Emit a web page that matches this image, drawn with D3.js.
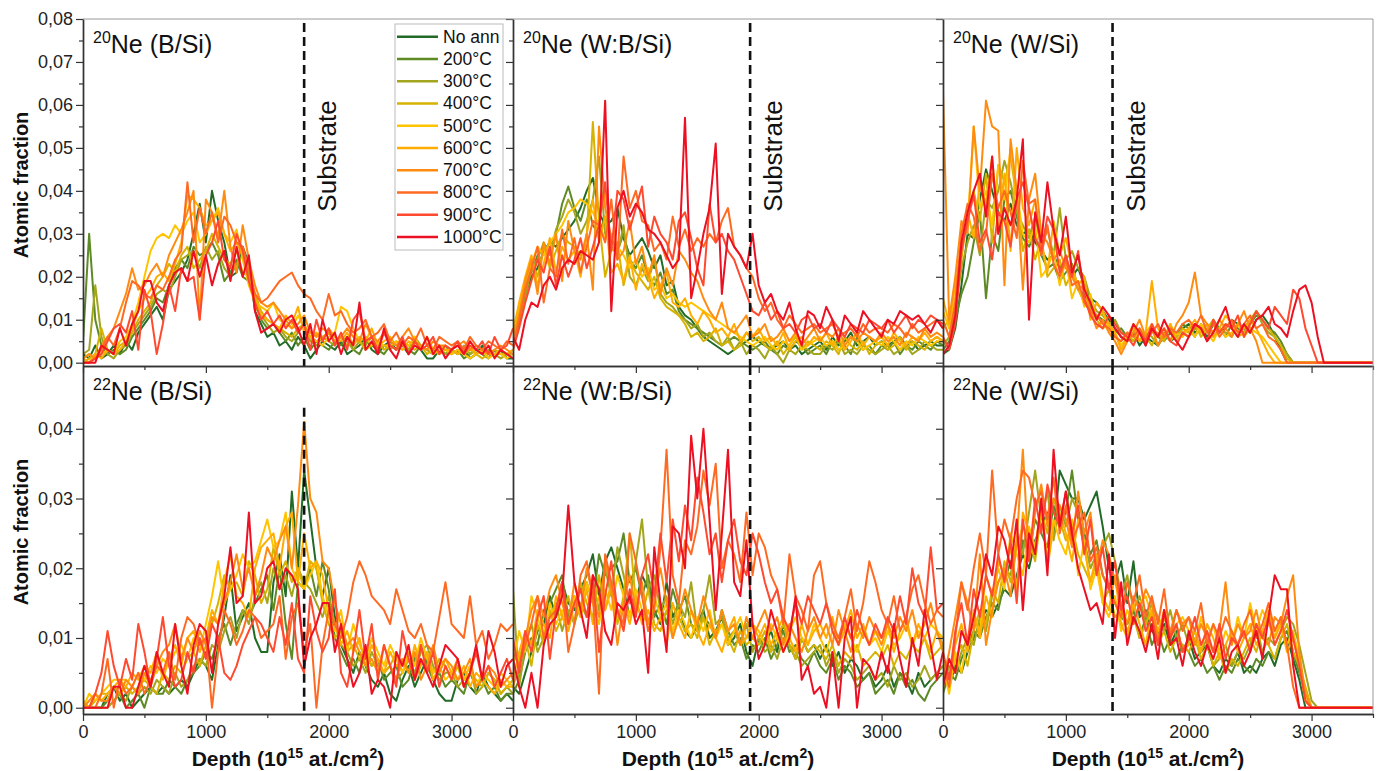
<!DOCTYPE html>
<html>
<head>
<meta charset="utf-8">
<script src="https://cdn.jsdelivr.net/npm/d3@7"></script>
<style>
  body { margin: 0; background: #fff; }
  svg { font-family: Arial, 'Liberation Sans', sans-serif; }
</style>
</head>
<body>
<script>
// Ne depth profiles after annealing, 3 samples x 2 isotopes.

const temps = ['No ann', '200°C', '300°C', '400°C', '500°C', '600°C', '700°C', '800°C', '900°C', '1000°C'];
const colors = ['#226b27', '#5e8a26', '#a3a51c', '#d6b300', '#ffc400', '#ffad00', '#ff8c10', '#ff6a22', '#ff4a30', '#ec1022'];

// depth, 10^15 at./cm2
const depth = [0,50,100,150,200,250,300,350,400,450,
  500,550,600,650,700,750,800,850,900,950,
  1000,1050,1100,1150,1200,1250,1300,1350,1400,1450,
  1500,1550,1600,1650,1700,1750,1800,1850,1900,1950,
  2000,2050,2100,2150,2200,2250,2300,2350,2400,2450,
  2500,2550,2600,2650,2700,2750,2800,2850,2900,2950,
  3000,3050,3100,3150,3200,3250,3300,3350,3400,3450,
  3500];

// atomic fraction x 1000, one row per temperature (same order as temps)
const ne20_BSi = [
  [2,1,4,1,2,4,2,5,3,7, 9,11,13,10,17,19,21,24,30,37, 28,40,33,28,20,21,27,23,12,9, 6,7,4,5,3,6,4,1,3,5, 4,3,5,2,3,4,6,3,2,4, 5,3,4,2,5,3,1,1,3,2, 3,2,3,1,2,4,2,2,3,1, 1],
  [5,30,10,4,2,3,2,3,6,8, 10,12,15,14,18,22,24,22,27,25, 26,28,25,19,21,24,20,19,14,10, 8,9,7,5,7,4,6,3,5,4, 3,5,4,6,3,2,5,4,3,2, 4,3,5,3,2,4,3,2,3,4, 2,3,1,2,3,2,1,3,2,2, 2],
  [2,3,18,6,2,1,3,4,7,9, 11,13,16,17,16,20,24,25,26,22, 27,24,26,22,20,23,25,21,13,11, 9,7,8,6,5,7,9,5,4,6, 5,4,6,5,3,5,4,6,3,4, 3,5,4,3,6,4,3,2,3,2, 3,2,4,2,3,2,3,2,1,2, 2],
  [0,1,2,8,3,2,4,5,7,10, 12,14,18,20,23,21,25,27,22,24, 26,30,27,24,23,26,21,20,16,12, 10,9,8,7,6,8,9,6,5,6, 7,5,6,4,5,5,3,4,5,3, 4,3,5,4,3,4,2,3,2,3, 2,3,2,3,2,1,2,3,2,2, 3],
  [1,2,1,2,3,2,5,6,9,14, 20,26,29,30,29,32,30,33,35,28, 30,33,36,30,28,31,24,18,14,13, 12,14,10,9,8,11,8,6,5,4, 6,7,13,12,8,5,6,4,5,4, 4,5,3,4,6,3,4,2,3,3, 2,3,2,1,2,3,1,2,2,1, 2],
  [1,0,2,1,3,2,3,5,8,12, 15,17,20,21,19,23,28,39,38,36, 32,33,35,30,26,28,25,19,15,11, 10,9,8,11,9,13,7,6,7,5, 8,6,5,7,4,6,5,8,4,5, 6,4,3,5,4,3,6,3,4,3, 3,2,3,4,2,3,2,2,3,2, 3],
  [1,2,1,4,6,8,12,16,22,17, 18,21,23,20,25,28,31,35,40,10, 38,35,29,40,27,21,32,24,18,14, 13,14,12,10,8,9,11,7,6,8, 7,5,6,8,6,5,9,6,5,7, 5,4,6,8,5,4,3,5,4,4, 3,4,5,3,4,3,2,3,4,3, 2],
  [0,0,1,3,6,4,8,14,19,18, 16,15,18,17,20,24,26,42,28,36, 30,35,28,34,32,28,27,22,16,14, 15,17,19,20,21,18,16,15,12,10, 16,11,12,9,7,8,10,6,7,9, 5,7,4,6,5,8,4,3,6,5, 4,5,3,6,4,3,5,4,3,5, 4],
  [0,0,1,2,5,8,9,7,12,3, 17,12,2,9,18,12,22,19,20,10, 25,28,33,24,22,30,26,19,14,10, 12,9,11,8,10,7,9,3,10,5, 8,4,7,3,10,12,5,6,3,7, 4,3,6,2,5,3,4,6,2,4, 3,5,2,4,3,5,2,6,3,4, 8],
  [0,0,0,4,3,2,8,4,9,12, 19,19,14,12,18,21,22,19,26,20, 25,18,23,26,19,27,20,25,12,7, 8,9,7,10,11,8,4,9,2,10, 5,7,2,6,4,14,3,5,2,8, 3,1,5,2,4,3,6,2,4,1, 3,4,2,5,3,2,4,1,3,2, 1]
];

const ne20_WBSi = [
  [5,9,16,20,22,26,28,27,29,31, 33,36,40,43,35,32,33,36,29,25, 27,29,26,22,25,18,19,13,11,10, 8,6,5,4,3,2,3,4,5,6, 5,4,3,4,5,3,4,2,3,4, 5,3,6,4,5,7,4,5,6,4, 5,4,5,6,4,5,3,4,5,4, 4],
  [4,12,18,21,25,27,26,30,37,41, 36,33,38,32,30,34,29,26,30,24, 22,25,20,18,21,16,17,12,10,9, 8,7,6,5,4,5,6,5,4,3, 4,5,3,2,4,3,5,4,2,3, 4,2,5,3,4,2,6,3,4,2, 4,3,5,2,4,3,5,4,3,5, 4],
  [3,10,15,22,24,28,25,31,34,38, 35,30,33,38,48,30,27,25,32,20, 18,22,19,24,16,14,13,11,10,8, 9,6,7,5,4,6,3,5,2,4, 3,1,4,2,0,3,2,4,3,2, 2,4,3,5,2,3,2,4,3,2, 3,4,2,3,4,2,3,5,4,3, 3],
  [6,12,17,24,20,27,22,26,30,28, 27,25,29,56,33,20,26,28,18,24, 21,19,17,20,15,13,12,11,9,6, 7,5,6,8,4,5,3,4,7,5, 6,4,3,5,2,4,6,3,5,4, 3,5,4,2,6,4,3,5,2,4, 5,3,4,6,3,5,4,3,5,6, 5],
  [8,13,19,23,27,25,28,30,32,35, 36,38,37,35,32,29,30,27,25,22, 24,20,22,17,18,15,16,14,13,14, 13,12,11,10,9,8,7,6,5,4, 5,6,4,3,5,4,7,3,4,5, 6,4,5,3,4,6,5,3,4,5, 4,6,5,3,5,4,6,5,4,5, 5],
  [7,14,20,25,18,23,29,21,27,24, 26,20,30,38,28,34,21,23,19,25, 17,23,20,15,18,21,14,13,15,11, 9,12,10,7,8,6,9,5,7,6, 8,5,6,4,7,3,5,6,4,6, 5,7,4,6,3,5,7,4,6,5, 6,4,7,5,4,6,5,7,5,6, 5],
  [5,11,19,24,16,28,23,30,19,33, 26,24,30,17,55,36,29,24,26,33, 23,27,20,25,16,22,18,26,24,21, 19,15,12,10,14,8,7,9,11,6, 7,9,5,6,8,5,7,4,6,8, 5,7,6,8,4,6,5,7,6,5, 7,5,6,4,7,6,5,8,6,7, 6],
  [4,10,17,22,27,14,22,20,31,23, 29,21,27,33,32,28,38,24,48,36, 40,33,32,26,28,24,34,27,31,26, 29,27,30,28,33,36,27,25,22,20, 15,12,14,10,8,11,9,7,8,9, 7,8,9,6,7,8,6,9,7,8, 8,7,9,8,6,9,7,8,9,10, 8],
  [3,8,14,19,24,21,27,18,25,20, 24,29,22,27,32,42,26,40,38,31, 36,41,27,34,30,28,24,33,35,29, 22,18,37,28,30,26,24,20,16,12, 11,14,10,12,8,9,7,10,11,8, 9,7,10,8,6,9,8,7,10,9, 8,10,7,9,11,8,10,9,11,10, 9],
  [6,3,10,14,13,18,20,17,22,24, 23,26,25,24,28,61,12,36,40,34, 37,35,31,30,28,25,22,24,57,15, 22,30,36,51,16,30,27,25,22,30, 18,14,16,12,10,14,8,4,12,11, 8,13,10,5,11,9,7,12,10,8, 6,10,9,12,11,10,11,9,7,10, 8]
];

const ne20_WSi = [
  [2,3,8,18,30,29,38,45,40,35, 33,37,32,30,31,28,26,24,25,22, 24,20,22,18,15,14,12,10,8,6, 5,7,4,6,5,4,7,5,6,8, 9,7,8,6,9,7,8,10,9,8, 7,10,11,9,6,3,0,0,0,0, 0,0,0,0,0,0,0,0,0,0, 0],
  [3,5,10,16,20,28,35,15,30,26, 38,40,34,29,27,30,25,22,23,19, 21,23,17,16,13,11,10,9,7,8, 6,5,7,4,8,6,5,7,6,9, 8,6,9,7,10,8,6,9,8,7, 9,11,10,8,7,5,2,0,0,0, 0,0,0,0,0,0,0,0,0,0, 0],
  [4,6,12,22,28,32,25,38,36,40, 47,42,35,32,29,34,27,31,25,36, 24,26,22,20,15,12,11,9,10,7, 6,8,5,7,6,4,6,8,5,7, 6,8,7,9,6,8,7,6,9,8, 10,12,9,7,6,4,2,0,0,0, 0,0,0,0,0,0,0,0,0,0, 0],
  [8,10,14,24,35,40,33,44,28,46, 42,48,38,26,31,24,29,20,22,24, 18,21,17,14,12,10,8,9,6,5, 7,5,8,6,4,7,5,9,6,8, 7,9,6,8,10,7,9,8,6,7, 9,12,10,8,6,4,1,0,0,0, 0,0,0,0,0,0,0,0,0,0, 0],
  [12,8,15,28,32,55,36,40,32,46, 38,50,40,30,28,32,20,22,26,18, 24,15,19,13,16,10,12,8,7,4, 6,8,5,7,9,6,8,5,7,6, 8,6,9,7,5,8,6,7,9,6, 8,7,6,4,2,0,0,0,0,0, 0,0,0,0,0,0,0,0,0,0, 0],
  [15,9,18,26,35,29,42,37,48,30, 44,26,50,36,32,38,28,21,33,25, 29,22,18,20,10,14,12,9,7,3, 6,9,5,7,19,8,6,9,5,7, 8,10,7,9,6,8,11,9,7,8, 10,8,5,2,0,0,0,0,0,0, 0,0,0,0,0,0,0,0,0,0, 0],
  [63,10,20,33,30,55,40,61,55,54, 18,52,40,17,38,44,30,28,24,26, 22,20,17,18,12,8,10,7,5,2, 5,7,10,6,8,4,7,5,9,11, 14,21,11,9,7,10,8,6,9,12, 8,5,0,0,0,0,0,0,0,0, 0,0,0,0,0,0,0,0,0,0, 0],
  [10,6,14,30,37,34,26,30,44,36, 40,35,29,47,37,38,25,32,23,20, 24,18,19,14,12,11,9,8,6,5, 7,6,8,5,7,9,6,8,7,9, 10,8,11,7,9,6,8,10,7,9, 11,8,9,6,5,3,0,0,0,0, 0,0,0,0,0,0,0,0,0,0, 0],
  [6,3,9,26,33,39,28,31,24,35, 33,27,38,42,36,29,26,34,31,21, 25,20,26,15,11,9,8,11,9,7, 6,4,7,5,9,6,8,5,4,7, 6,9,8,5,10,7,9,8,11,6, 9,12,10,8,13,11,9,17,15,8, 4,0,0,0,0,0,0,0,0,0, 0],
  [2,4,11,28,35,40,44,34,48,30, 36,32,38,52,10,35,28,42,31,25, 34,21,25,17,14,10,13,11,8,6, 5,9,7,4,8,6,10,7,5,3, 6,9,8,5,7,10,13,8,6,9, 7,10,11,13,9,8,6,12,17,18, 14,6,0,0,0,0,0,0,0,0, 0]
];

const ne22_BSi = [
  [0,0,0,0,2,3,1,2,0,1, 2,3,2,3,2,3,4,3,5,7, 6,4,9,13,19,11,13,15,10,8, 8,18,22,16,31,20,34,27,20,16, 20,13,9,7,5,8,6,4,3,5, 2,1,4,6,3,5,7,4,2,1, 1,4,5,3,2,5,3,2,1,2, 1],
  [0,0,0,0,1,3,2,0,1,2, 0,3,2,2,4,3,2,4,5,6, 8,7,10,12,9,12,14,13,15,17, 19,14,20,12,7,18,17,20,16,21, 17,10,8,6,7,5,8,6,7,4, 5,6,3,4,7,9,6,4,5,3, 4,3,2,5,3,4,2,3,1,2, 2],
  [0,0,0,0,0,1,2,1,3,2, 3,2,4,3,2,5,3,4,6,7, 6,9,8,11,13,10,14,12,16,18, 15,20,17,19,16,20,18,17,15,13, 16,12,9,8,6,7,5,8,6,5, 6,4,5,7,5,8,9,6,4,5, 5,3,4,6,2,3,5,4,2,3, 2],
  [1,0,1,2,2,3,2,3,2,3, 4,3,2,5,4,6,5,7,8,6, 9,12,15,19,17,18,16,21,19,15, 17,23,19,21,18,20,17,21,20,15, 12,10,11,8,9,7,8,6,7,5, 6,8,5,7,4,6,8,5,7,6, 4,6,3,5,4,3,5,4,2,3, 4],
  [0,2,1,2,3,4,4,4,3,5, 4,6,5,7,6,8,9,7,10,8, 12,16,21,15,17,19,22,20,21,24, 27,23,24,28,20,18,17,19,21,16, 13,11,14,8,12,9,7,10,8,6, 9,7,5,8,6,10,7,5,6,4, 5,7,4,6,3,5,4,3,5,4, 3],
  [1,0,2,1,2,3,4,3,5,4, 6,5,8,4,7,9,6,10,11,8, 10,14,12,18,22,16,15,13,20,23, 24,25,20,26,28,18,25,20,21,19, 14,12,9,11,8,10,6,9,7,5, 8,6,7,5,9,6,8,4,6,7, 5,4,6,3,5,4,3,2,4,3, 3],
  [0,1,2,1,1,3,2,4,3,2, 5,3,6,8,9,12,7,10,8,11, 9,13,12,15,18,22,17,20,16,19, 23,21,24,26,20,29,41,30,28,21, 20,15,12,9,10,8,6,7,5,9, 6,4,7,5,8,4,6,9,5,7, 6,4,5,7,3,4,6,5,3,4, 5],
  [0,0,0,2,7,0,4,2,3,5, 2,4,6,5,8,4,10,13,12,9, 10,0,8,14,12,9,11,14,13,10, 11,12,16,7,13,15,8,12,0,9, 14,12,10,13,18,21,19,16,15,14, 12,17,14,11,10,12,9,8,13,18, 12,11,10,16,9,11,7,9,12,11, 12],
  [0,0,2,5,11,6,3,7,4,12, 8,3,7,13,6,3,4,8,5,10, 7,12,10,5,4,6,9,11,13,12, 10,8,13,9,15,7,5,16,11,8, 10,17,5,3,8,14,7,12,4,9, 6,3,11,7,4,9,5,8,3,6, 4,7,3,5,8,4,6,3,5,7, 4],
  [0,0,0,0,0,3,3,0,0,3, 6,3,8,5,3,12,6,2,9,12, 11,5,12,16,23,15,16,28,15,16, 20,21,17,20,19,17,6,10,12,15, 15,8,12,7,3,5,9,2,4,3, 0,8,6,9,4,7,5,3,6,9, 8,7,3,5,9,4,11,8,3,6, 7]
];

const ne22_WBSi = [
  [3,2,5,8,11,12,16,13,18,15, 14,17,19,22,16,21,23,20,17,13, 15,19,17,14,12,18,13,15,11,10, 12,14,10,11,13,9,10,12,8,6, 10,9,11,8,12,9,7,10,8,9, 7,9,6,8,5,7,6,4,5,3, 4,6,3,5,4,2,5,3,4,5, 6],
  [2,4,8,10,9,14,15,17,19,13, 16,14,18,15,22,19,20,21,25,18, 20,16,19,13,15,12,17,14,16,12, 11,13,12,10,14,11,9,10,7,9, 8,10,7,9,11,8,9,7,6,8, 6,5,7,4,6,5,3,4,5,2, 3,4,2,5,3,4,2,1,3,4, 5],
  [17,3,9,12,8,10,13,15,11,14, 12,15,13,18,14,20,16,23,19,15, 21,27,17,19,14,16,12,15,13,18, 11,14,19,12,13,10,11,9,12,8, 10,8,9,7,10,9,8,6,7,8, 9,6,8,5,7,6,4,5,6,4, 5,3,6,4,5,3,4,6,4,5, 6],
  [5,7,10,6,12,9,14,11,13,16, 12,18,15,13,19,14,17,12,16,25, 15,13,17,12,11,14,10,13,11,12, 10,13,9,11,12,10,8,11,9,10, 9,11,8,10,12,9,7,10,8,9, 8,7,9,6,8,7,9,6,7,8, 7,9,6,8,7,9,8,10,7,8, 9],
  [6,11,8,16,13,10,15,12,14,11, 16,13,18,15,12,17,14,19,16,13, 17,14,12,16,13,15,11,14,12,10, 13,11,14,10,12,9,11,13,10,12, 11,9,12,10,8,11,13,10,9,12, 10,8,11,9,12,10,8,11,9,10, 8,11,9,10,12,9,11,10,12,11, 10],
  [4,8,11,9,14,12,10,16,13,11, 15,13,17,12,16,14,18,13,15,12, 16,12,14,11,13,9,15,12,10,14, 11,9,12,10,8,11,13,9,10,12, 10,12,9,11,13,10,8,12,9,11, 12,10,13,9,11,14,10,12,9,11, 10,12,8,11,13,9,12,10,8,11, 9],
  [3,6,10,14,16,13,17,19,15,12, 18,14,20,16,13,21,17,9,15,19, 14,18,12,16,20,15,10,13,17,14, 12,16,13,10,14,11,12,9,13,10, 12,14,11,13,9,12,10,8,11,13, 10,12,9,14,11,8,12,10,13,11, 9,12,10,13,11,14,10,12,15,11, 8],
  [8,6,9,12,16,10,13,14,18,8, 12,19,21,16,2,22,18,14,12,25, 21,16,11,14,23,37,19,15,24,22, 26,34,29,35,20,24,22,18,28,19, 25,23,19,17,12,22,16,14,11,19, 21,15,12,10,13,17,11,15,21,18, 14,12,16,11,13,17,19,15,12,14, 13],
  [10,5,11,8,13,16,7,14,18,12, 15,17,13,19,8,16,21,14,11,17, 13,19,22,16,25,18,27,21,29,24, 33,28,22,25,18,24,27,21,19,25, 22,18,15,17,13,11,15,12,16,14, 12,15,11,9,13,10,14,11,9,12, 10,13,11,16,12,20,15,13,23,14, 15],
  [7,3,0,5,0,9,12,13,16,29, 18,14,10,19,17,11,9,15,14,16, 12,14,5,23,15,8,26,25,20,39, 30,40,27,14,25,37,18,16,24,12, 7,9,14,11,8,10,16,4,6,2, 3,0,8,0,10,13,0,7,6,4, 8,5,12,7,3,10,6,14,9,4, 8]
];

const ne22_WSi = [
  [4,3,6,5,8,10,12,14,13,15, 17,16,19,22,20,24,26,28,25,34, 32,30,30,27,29,31,26,20,18,21, 15,21,13,14,11,10,12,9,11,8, 10,7,8,9,6,5,7,6,8,5, 6,5,7,8,6,9,10,7,4,0, 0,0,0,0,0,0,0,0,0,0, 0],
  [2,5,4,7,9,11,10,13,15,14, 18,21,17,24,22,27,25,23,29,26, 28,34,27,25,22,24,19,17,15,13, 12,14,10,13,9,11,8,10,7,9, 8,6,7,5,6,4,6,5,7,6, 5,7,6,8,7,10,11,8,5,2, 0,0,0,0,0,0,0,0,0,0, 0],
  [3,6,5,8,10,9,13,11,16,18, 20,19,24,22,28,34,27,31,24,29, 26,30,28,24,20,22,23,25,21,16, 19,14,16,12,15,13,11,14,10,12, 9,11,8,10,6,7,9,6,8,7, 9,12,8,10,9,11,13,12,9,5, 1,0,0,0,0,0,0,0,0,0, 0],
  [5,3,7,9,6,11,14,12,17,15, 21,18,23,26,24,21,28,25,30,27, 24,26,22,20,18,21,15,17,13,14, 11,13,10,12,14,9,11,8,10,9, 8,10,7,9,6,8,5,7,6,8, 10,8,11,9,7,10,12,8,6,3, 0,0,0,0,0,0,0,0,0,0, 0],
  [6,2,8,5,10,13,11,19,16,20, 17,25,22,19,26,23,29,21,27,24, 22,27,19,24,17,20,15,13,16,11, 14,12,15,16,13,11,14,10,12,13, 11,9,13,10,12,8,11,9,13,10, 15,11,14,12,10,13,9,11,7,2, 0,0,0,0,0,0,0,0,0,0, 0],
  [7,4,9,12,8,14,10,16,13,21, 19,23,17,28,25,22,30,20,26,28, 25,21,27,23,18,22,16,14,19,12, 10,15,12,9,14,11,13,10,12,8, 9,11,8,12,10,7,9,11,8,10, 12,9,11,14,10,12,8,10,6,1, 0,0,0,0,0,0,0,0,0,0, 0],
  [4,8,13,18,15,11,22,9,14,18, 20,16,24,37,21,28,32,26,30,29, 27,23,31,25,28,20,24,22,18,15, 12,16,14,17,15,10,13,11,14,12, 13,9,12,10,8,11,18,9,12,10, 11,14,10,9,13,12,16,19,8,2, 0,0,0,0,0,0,0,0,0,0, 0],
  [6,3,10,18,14,20,25,19,34,22, 27,24,30,34,33,29,31,27,33,25, 29,24,26,28,21,23,19,17,15,13, 18,15,19,13,16,12,17,10,14,11, 13,11,15,9,12,10,13,11,9,12, 14,10,12,15,11,13,9,3,0,0, 0,0,0,0,0,0,0,0,0,0, 0],
  [8,4,11,15,9,17,13,19,16,22, 18,24,15,27,21,30,25,32,28,26, 31,25,29,22,27,19,23,17,21,14, 16,12,15,11,13,9,14,10,12,8, 10,13,9,11,8,12,7,10,9,11, 8,12,10,13,9,11,14,10,6,1, 0,0,0,0,0,0,0,0,0,0, 0],
  [3,7,5,11,9,13,17,22,19,26, 24,20,27,14,25,22,30,19,37,26, 31,25,20,17,14,15,12,22,10,18, 9,13,11,8,12,7,14,9,10,6, 11,8,6,9,7,10,5,8,9,6, 8,11,7,13,19,17,17,6,0,0, 0,0,0,0,0,0,0,0,0,0, 0]
];

// film / substrate interface, 10^15 at./cm2
const substrateDepth = [1800, 1930, 1380];

const panels = [
  {row: 0, col: 0, iso: '20', sample: 'B/Si', data: ne20_BSi},
  {row: 0, col: 1, iso: '20', sample: 'W:B/Si', data: ne20_WBSi},
  {row: 0, col: 2, iso: '20', sample: 'W/Si', data: ne20_WSi},
  {row: 1, col: 0, iso: '22', sample: 'B/Si', data: ne22_BSi},
  {row: 1, col: 1, iso: '22', sample: 'W:B/Si', data: ne22_WBSi},
  {row: 1, col: 2, iso: '22', sample: 'W/Si', data: ne22_WSi}
];

const W = 1379, H = 771;
const colLeft = [83, 513, 943];
const panelW = 430;
const rows = [
  {top: 19, bottom: 366, domain: [-0.00077, 0.08], nMajor: 8},
  {top: 366, bottom: 714, domain: [-0.0009, 0.049], nMajor: 4}
];
const axisColor = '#333';
const fmt = d => d3.format('.2f')(d).replace('.', ',');

const svg = d3.select('body').append('svg')
  .attr('width', W)
  .attr('height', H);

const defs = svg.append('defs');

panels.forEach((p, pi) => {
  const r = rows[p.row];
  const x0 = colLeft[p.col];
  const x = d3.scaleLinear().domain([0, 3500]).range([x0, x0 + panelW]);
  const y = d3.scaleLinear().domain(r.domain).range([r.bottom, r.top]);

  defs.append('clipPath').attr('id', 'clip' + pi)
    .append('rect')
    .attr('x', x0).attr('y', r.top)
    .attr('width', panelW).attr('height', r.bottom - r.top);

  const g = svg.append('g');

  // profiles, coldest first so the 1000°C curve ends up on top
  const line = d3.line()
    .defined((d, i) => i < depth.length)
    .x((d, i) => x(depth[i]))
    .y(d => y(d / 1000));
  g.append('g')
    .attr('clip-path', `url(#clip${pi})`)
    .selectAll('path')
    .data(p.data)
    .join('path')
    .attr('d', line)
    .attr('fill', 'none')
    .attr('stroke', (d, i) => colors[i])
    .attr('stroke-width', 2)
    .attr('stroke-linejoin', 'round');

  // substrate interface
  const sx = x(substrateDepth[p.col]);
  const dashTop = (p.row === 1 && p.col === 0) ? y(0.043) : (p.row === 0 ? r.top + 4 : r.top);
  g.append('line')
    .attr('x1', sx).attr('x2', sx)
    .attr('y1', dashTop).attr('y2', r.bottom)
    .attr('stroke', '#111')
    .attr('stroke-width', 2.6)
    .attr('stroke-dasharray', '9,5');

  if (p.row === 0) {
    g.append('text')
      .attr('transform', `translate(${sx + 32},156) rotate(-90)`)
      .attr('text-anchor', 'middle')
      .attr('font-size', 26)
      .attr('fill', '#111')
      .text('Substrate');
  }

  // axes
  const yMajor = d3.range(0, r.nMajor + 1).map(k => k / 100);
  const yMinor = d3.range(0, r.nMajor).map(k => (2 * k + 1) / 200);
  const yAxis = d3.axisLeft(y).tickValues(yMajor).tickSize(7).tickSizeOuter(0)
    .tickFormat(p.col === 0 ? fmt : '');
  const ya = g.append('g').attr('transform', `translate(${x0},0)`).call(yAxis);
  g.append('g').attr('transform', `translate(${x0},0)`)
    .call(d3.axisLeft(y).tickValues(yMinor).tickSize(4).tickSizeOuter(0).tickFormat(''));

  const xAxis = d3.axisBottom(x).tickValues([0, 1000, 2000, 3000]).tickSize(7).tickSizeOuter(0)
    .tickFormat(p.row === 1 ? d3.format('d') : '');
  const xa = g.append('g').attr('transform', `translate(0,${r.bottom})`).call(xAxis);
  g.append('g').attr('transform', `translate(0,${r.bottom})`)
    .call(d3.axisBottom(x).tickValues([500, 1500, 2500, 3500]).tickSize(4).tickSizeOuter(0).tickFormat(''));

  g.selectAll('.domain').attr('stroke', axisColor).attr('stroke-width', 1.4);
  g.selectAll('.tick line').attr('stroke', axisColor).attr('stroke-width', 1.2);
  g.selectAll('.tick text').attr('font-size', 18).attr('fill', '#222')
    .attr('font-family', 'Arial, "Liberation Sans", sans-serif');
  ya.selectAll('.tick text').attr('x', -10);
  xa.selectAll('.tick text').attr('y', 11);

  // panel title, e.g. 20Ne (B/Si)
  const t = g.append('text')
    .attr('x', x0 + 10)
    .attr('y', p.row === 0 ? 53 : 400)
    .attr('font-size', 25)
    .attr('fill', '#111');
  t.append('tspan').attr('font-size', 16).attr('dy', -10).text(p.iso);
  t.append('tspan').attr('dy', 10).text(`Ne (${p.sample})`);
});

// frame: top edge and far right edge
svg.append('line')
  .attr('x1', colLeft[0]).attr('x2', colLeft[2] + panelW)
  .attr('y1', rows[0].top).attr('y2', rows[0].top)
  .attr('stroke', '#999').attr('stroke-width', 1);
svg.append('line')
  .attr('x1', colLeft[2] + panelW).attr('x2', colLeft[2] + panelW)
  .attr('y1', rows[0].top).attr('y2', rows[1].bottom)
  .attr('stroke', '#999').attr('stroke-width', 1);

// axis titles
[185, 532].forEach(cy => {
  svg.append('text')
    .attr('transform', `translate(28,${cy}) rotate(-90)`)
    .attr('text-anchor', 'middle')
    .attr('font-size', 20)
    .attr('font-weight', 'bold')
    .attr('fill', '#111')
    .text('Atomic fraction');
});

colLeft.forEach(x0 => {
  const t = svg.append('text')
    .attr('x', x0 + panelW / 2 - 10)
    .attr('y', 766)
    .attr('text-anchor', 'middle')
    .attr('font-size', 21)
    .attr('font-weight', 'bold')
    .attr('fill', '#111');
  t.append('tspan').text('Depth (10');
  t.append('tspan').attr('font-size', 14).attr('dy', -8).text('15');
  t.append('tspan').attr('dy', 8).text(' at./cm');
  t.append('tspan').attr('font-size', 14).attr('dy', -8).text('2');
  t.append('tspan').attr('dy', 8).text(')');
});

// legend, inside the top-left panel
const leg = svg.append('g');
leg.append('rect')
  .attr('x', 395).attr('y', 24)
  .attr('width', 108).attr('height', 226)
  .attr('fill', '#fff')
  .attr('stroke', '#bbb');
const rowsY = d3.scaleLinear().domain([0, temps.length - 1]).range([36.7, 237]);
const items = leg.selectAll('g.item').data(temps).join('g').attr('class', 'item')
  .attr('transform', (d, i) => `translate(0,${rowsY(i)})`);
items.append('line')
  .attr('x1', 397).attr('x2', 438)
  .attr('stroke', (d, i) => colors[i])
  .attr('stroke-width', 2.4);
items.append('text')
  .attr('x', 443).attr('y', 6)
  .attr('font-size', 17.5)
  .attr('fill', '#111')
  .text(d => d);

// sanity check on the typed series
const bad = [];
panels.forEach(p => p.data.forEach((s, i) => {
  if (s.length !== depth.length) bad.push(`${p.iso}Ne ${p.sample} ${temps[i]}: ${s.length}`);
}));
if (bad.length) throw new Error('series length mismatch: ' + bad.join('; '));
</script>
</body>
</html>
